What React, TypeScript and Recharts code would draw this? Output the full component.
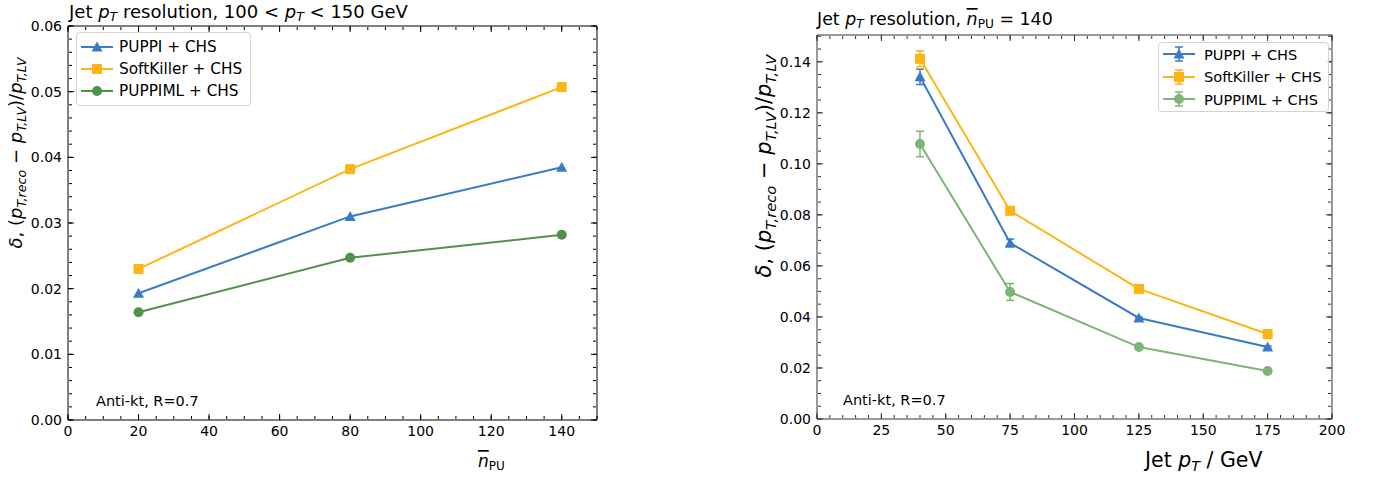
import React from "react";
import { LineChart, Line, XAxis, YAxis, Legend, ErrorBar } from "recharts";

const FONT = "'DejaVu Sans', sans-serif";

const BLUE = "#3a7cc4";
const ORANGE = "#fdb515";
const GREEN = "#50914b";
const LIGHT_GREEN = "#7db478";

const seriesNames = ["PUPPI + CHS", "SoftKiller + CHS", "PUPPIML + CHS"];

// resolution vs pile-up, 100 < pT < 150 GeV
const nPU = [20, 80, 140];
const puppiVsNpu = [0.0193, 0.031, 0.0385];
const softKillerVsNpu = [0.023, 0.0382, 0.0507];
const puppiMlVsNpu = [0.0164, 0.0247, 0.0282];

// resolution vs jet pT at nPU = 140
const jetPt = [40, 75, 125, 175];
const puppiVsPt = [0.1341, 0.069, 0.0396, 0.0282];
const puppiVsPtErr = [0.003, 0.0015, 0.0004, 0.0004];
const softKillerVsPt = [0.1412, 0.0816, 0.051, 0.0333];
const softKillerVsPtErr = [0.0031, 0.001, 0.0004, 0.0004];
const puppiMlVsPt = [0.1078, 0.0498, 0.0282, 0.0188];
const puppiMlVsPtErr = [0.005, 0.0033, 0.0004, 0.0004];

const nPUTicks = [0, 20, 40, 60, 80, 100, 120, 140];
const ptTicks = [0, 25, 50, 75, 100, 125, 150, 175, 200];
const leftYTicks = [0, 0.01, 0.02, 0.03, 0.04, 0.05, 0.06];
const rightYTicks = [0, 0.02, 0.04, 0.06, 0.08, 0.1, 0.12, 0.14];

const steps = (lo: number, hi: number, step: number) => {
  const out: number[] = [];
  for (let i = 0; lo + i * step <= hi + 1e-9; i++) out.push(+(lo + i * step).toFixed(4));
  return out;
};

const leftRows = nPU.map((n, i) => ({
  n,
  puppi: puppiVsNpu[i],
  softKiller: softKillerVsNpu[i],
  puppiMl: puppiMlVsNpu[i],
}));

const rightRows = jetPt.map((pt, i) => ({
  pt,
  puppi: puppiVsPt[i],
  puppiErr: puppiVsPtErr[i],
  softKiller: softKillerVsPt[i],
  softKillerErr: softKillerVsPtErr[i],
  puppiMl: puppiMlVsPt[i],
  puppiMlErr: puppiMlVsPtErr[i],
}));

type Shape = "triangle" | "square" | "circle";

function Marker({ shape, cx, cy, color }: { shape: Shape; cx: number; cy: number; color: string }) {
  if (shape === "triangle")
    return <polygon points={`${cx},${cy - 5.5} ${cx - 5.5},${cy + 4.5} ${cx + 5.5},${cy + 4.5}`} fill={color} />;
  if (shape === "square") return <rect x={cx - 5} y={cy - 5} width={10} height={10} fill={color} />;
  return <circle cx={cx} cy={cy} r={5} fill={color} />;
}

const dotFor = (shape: Shape, color: string) => (p: any) =>
  <Marker key={`${shape}-${p.index}`} shape={shape} cx={p.cx} cy={p.cy} color={color} />;

function LegendBox({ colors, withErrors, fontSize }: { colors: string[]; withErrors: boolean; fontSize: number }) {
  const shapes: Shape[] = ["triangle", "square", "circle"];
  return (
    <div
      style={{
        border: "1px solid #d3d3d3",
        borderRadius: 4,
        background: "rgba(255,255,255,0.85)",
        padding: withErrors ? "0 7px 0 3px" : "3px 8px 3px 3px",
        fontFamily: FONT,
        fontSize,
        color: "#000",
      }}
    >
      {seriesNames.map((name, i) => (
        <div key={name} style={{ display: "flex", alignItems: "center", height: withErrors ? 22.5 : 22 }}>
          <svg width={34} height={20}>
            <line x1={1} x2={33} y1={10} y2={10} stroke={colors[i]} strokeWidth={2} />
            {withErrors && (
              <g stroke={colors[i]} strokeWidth={1.5}>
                <line x1={17} x2={17} y1={3} y2={17} />
                <line x1={13} x2={21} y1={3} y2={3} />
                <line x1={13} x2={21} y1={17} y2={17} />
              </g>
            )}
            <Marker shape={shapes[i]} cx={17} cy={10} color={colors[i]} />
          </svg>
          <span style={{ marginLeft: withErrors ? 8 : 5, whiteSpace: "nowrap" }}>{name}</span>
        </div>
      ))}
    </div>
  );
}

const NoLabel = () => <g />;

// bottom/left axes carry the labels, thin mirrored copies draw inward ticks on all four sides
function frameAxes(o: {
  xKey: string;
  xDomain: [number, number];
  yDomain: [number, number];
  xMajor: number[];
  xMinor: number[];
  yMajor: number[];
  yMinor: number[];
  color: string;
}) {
  const line = { stroke: o.color, strokeWidth: 1 };
  const common = { type: "number" as const, allowDataOverflow: true, interval: 0 as const, tick: NoLabel, mirror: true };
  return [
    <XAxis key="xbM" xAxisId="bMaj" dataKey={o.xKey} {...common} height={1} domain={o.xDomain} ticks={o.xMajor} tickSize={6} tickLine={line} axisLine={false} />,
    <XAxis key="xbm" xAxisId="bMin" dataKey={o.xKey} {...common} height={1} domain={o.xDomain} ticks={o.xMinor} tickSize={3} tickLine={line} axisLine={false} />,
    <XAxis key="xtM" xAxisId="tMaj" dataKey={o.xKey} orientation="top" {...common} height={1} domain={o.xDomain} ticks={o.xMajor} tickSize={6} tickLine={line} axisLine={false} />,
    <XAxis key="xtm" xAxisId="tMin" dataKey={o.xKey} orientation="top" {...common} height={1} domain={o.xDomain} ticks={o.xMinor} tickSize={3} tickLine={line} axisLine={false} />,
    <YAxis key="ylM" yAxisId="lMaj" {...common} width={1} domain={o.yDomain} ticks={o.yMajor} tickSize={6} tickLine={line} axisLine={false} />,
    <YAxis key="ylm" yAxisId="lMin" {...common} width={1} domain={o.yDomain} ticks={o.yMinor} tickSize={3} tickLine={line} axisLine={false} />,
    <YAxis key="yrM" yAxisId="rMaj" orientation="right" {...common} width={1} domain={o.yDomain} ticks={o.yMajor} tickSize={6} tickLine={line} axisLine={false} />,
    <YAxis key="yrm" yAxisId="rMin" orientation="right" {...common} width={1} domain={o.yDomain} ticks={o.yMinor} tickSize={3} tickLine={line} axisLine={false} />,
  ];
}

const tickText = { fontSize: 14, fill: "#000", fontFamily: FONT };

function DeltaLabel({ x, y, size }: { x: number; y: number; size: number }) {
  const sub = size * 0.7;
  const d = size * 0.22;
  return (
    <text transform={`rotate(-90 ${x} ${y})`} x={x} y={y} textAnchor="middle" fontSize={size} fontFamily={FONT}>
      <tspan fontStyle="italic">δ</tspan>, (<tspan fontStyle="italic">p</tspan>
      <tspan fontStyle="italic" fontSize={sub} dy={d}>T,reco</tspan>
      <tspan dy={-d}> − </tspan>
      <tspan fontStyle="italic">p</tspan>
      <tspan fontStyle="italic" fontSize={sub} dy={d}>T,LV</tspan>
      <tspan dy={-d}>)/</tspan>
      <tspan fontStyle="italic">p</tspan>
      <tspan fontStyle="italic" fontSize={sub} dy={d}>T,LV</tspan>
    </text>
  );
}

function LeftPanel() {
  return (
    <LineChart width={620} height={477} data={leftRows} margin={{ top: 26, right: 23, bottom: 27, left: 18 }}>
      <XAxis
        xAxisId="b"
        dataKey="n"
        type="number"
        domain={[0, 150]}
        allowDataOverflow
        ticks={nPUTicks}
        interval={0}
        height={30}
        tickLine={false}
        tickSize={0}
        tickMargin={6}
        axisLine={{ stroke: "#000" }}
        tick={tickText}
      />
      <YAxis
        yAxisId="l"
        type="number"
        domain={[0, 0.06]}
        allowDataOverflow
        ticks={leftYTicks}
        interval={0}
        width={50}
        tickLine={false}
        tickSize={0}
        tickMargin={6}
        axisLine={{ stroke: "#000" }}
        tick={tickText}
        tickFormatter={(v: number) => v.toFixed(2)}
      />
      {frameAxes({
        xKey: "n",
        xDomain: [0, 150],
        yDomain: [0, 0.06],
        xMajor: nPUTicks,
        xMinor: steps(0, 150, 5),
        yMajor: leftYTicks,
        yMinor: steps(0, 0.06, 0.002),
        color: "#000",
      })}
      <XAxis xAxisId="top" orientation="top" dataKey="n" type="number" domain={[0, 150]} allowDataOverflow height={0.001} tick={false} tickLine={false} axisLine={{ stroke: "#000" }} />
      <YAxis yAxisId="right" orientation="right" type="number" domain={[0, 0.06]} allowDataOverflow width={0.001} tick={false} tickLine={false} axisLine={{ stroke: "#000" }} />
      <Line xAxisId="b" yAxisId="l" dataKey="puppi" name={seriesNames[0]} stroke={BLUE} strokeWidth={2} dot={dotFor("triangle", BLUE)} isAnimationActive={false} />
      <Line xAxisId="b" yAxisId="l" dataKey="softKiller" name={seriesNames[1]} stroke={ORANGE} strokeWidth={2} dot={dotFor("square", ORANGE)} isAnimationActive={false} />
      <Line xAxisId="b" yAxisId="l" dataKey="puppiMl" name={seriesNames[2]} stroke={GREEN} strokeWidth={2} dot={dotFor("circle", GREEN)} isAnimationActive={false} />
      <Legend
        layout="vertical"
        align="center"
        verticalAlign="middle"
        wrapperStyle={{ left: 76, top: 32 }}
        content={() => <LegendBox colors={[BLUE, ORANGE, GREEN]} withErrors={false} fontSize={15.3} />}
      />
    </LineChart>
  );
}

function RightPanel() {
  const axisColor = "#333";
  return (
    <LineChart width={635} height={477} data={rightRows} margin={{ top: 35, right: 43, bottom: 28, left: 27 }}>
      <XAxis
        xAxisId="b"
        dataKey="pt"
        type="number"
        domain={[0, 200]}
        allowDataOverflow
        ticks={ptTicks}
        interval={0}
        height={30}
        tickLine={false}
        tickSize={0}
        tickMargin={6}
        axisLine={{ stroke: axisColor }}
        tick={tickText}
      />
      <YAxis
        yAxisId="l"
        type="number"
        domain={[0, 0.1505]}
        allowDataOverflow
        ticks={rightYTicks}
        interval={0}
        width={50}
        tickLine={false}
        tickSize={0}
        tickMargin={6}
        axisLine={{ stroke: axisColor }}
        tick={tickText}
        tickFormatter={(v: number) => v.toFixed(2)}
      />
      {frameAxes({
        xKey: "pt",
        xDomain: [0, 200],
        yDomain: [0, 0.1505],
        xMajor: ptTicks,
        xMinor: steps(0, 200, 5),
        yMajor: rightYTicks,
        yMinor: steps(0, 0.15, 0.005),
        color: axisColor,
      })}
      <XAxis xAxisId="top" orientation="top" dataKey="pt" type="number" domain={[0, 200]} allowDataOverflow height={0.001} tick={false} tickLine={false} axisLine={{ stroke: axisColor }} />
      <YAxis yAxisId="right" orientation="right" type="number" domain={[0, 0.1505]} allowDataOverflow width={0.001} tick={false} tickLine={false} axisLine={{ stroke: axisColor }} />
      <Line xAxisId="b" yAxisId="l" dataKey="puppi" name={seriesNames[0]} stroke={BLUE} strokeWidth={2} dot={dotFor("triangle", BLUE)} isAnimationActive={false}>
        <ErrorBar dataKey="puppiErr" direction="y" width={4} stroke={BLUE} strokeWidth={1.5} />
      </Line>
      <Line xAxisId="b" yAxisId="l" dataKey="softKiller" name={seriesNames[1]} stroke={ORANGE} strokeWidth={2} dot={dotFor("square", ORANGE)} isAnimationActive={false}>
        <ErrorBar dataKey="softKillerErr" direction="y" width={4} stroke={ORANGE} strokeWidth={1.5} />
      </Line>
      <Line xAxisId="b" yAxisId="l" dataKey="puppiMl" name={seriesNames[2]} stroke={LIGHT_GREEN} strokeWidth={2} dot={dotFor("circle", LIGHT_GREEN)} isAnimationActive={false}>
        <ErrorBar dataKey="puppiMlErr" direction="y" width={4} stroke={LIGHT_GREEN} strokeWidth={1.5} />
      </Line>
      <Legend
        layout="vertical"
        align="center"
        verticalAlign="middle"
        wrapperStyle={{ left: 418, top: 42 }}
        content={() => <LegendBox colors={[BLUE, ORANGE, LIGHT_GREEN]} withErrors fontSize={14.6} />}
      />
    </LineChart>
  );
}

export default function App() {
  const t = 18;
  const ts = t * 0.7;
  return (
    <div style={{ position: "absolute", left: 0, top: 0, width: 1375, height: 477, background: "#fff", overflow: "hidden" }}>
      <div style={{ position: "absolute", left: 0, top: 0 }}>
        <LeftPanel />
      </div>
      <div style={{ position: "absolute", left: 740, top: 0 }}>
        <RightPanel />
      </div>
      <svg width={1375} height={477} style={{ position: "absolute", left: 0, top: 0, pointerEvents: "none" }} fontFamily={FONT}>
        <text x={69} y={18} fontSize={t}>
          Jet <tspan fontStyle="italic">p</tspan>
          <tspan fontStyle="italic" fontSize={ts} dy={3}>T</tspan>
          <tspan dy={-3}> resolution, 100 &lt; </tspan>
          <tspan fontStyle="italic">p</tspan>
          <tspan fontStyle="italic" fontSize={ts} dy={3}>T</tspan>
          <tspan dy={-3}> &lt; 150 GeV</tspan>
        </text>
        <text x={817} y={25} fontSize={17.4}>
          Jet <tspan fontStyle="italic">p</tspan>
          <tspan fontStyle="italic" fontSize={12.2} dy={3}>T</tspan>
          <tspan dy={-3}> resolution, </tspan>
          <tspan fontStyle="italic" textDecoration="overline">n</tspan>
          <tspan fontSize={12.2} dy={3}>PU</tspan>
          <tspan dy={-3}> = 140</tspan>
        </text>
        <DeltaLabel x={22} y={153} size={18} />
        <DeltaLabel x={771} y={166} size={21} />
        <text x={478} y={467} fontSize={17}>
          <tspan fontStyle="italic" textDecoration="overline">n</tspan>
          <tspan fontSize={12} dy={3}>PU</tspan>
        </text>
        <text x={1145} y={467} fontSize={20.5}>
          Jet <tspan fontStyle="italic">p</tspan>
          <tspan fontStyle="italic" fontSize={14.3} dy={4}>T</tspan>
          <tspan dy={-4}> / GeV</tspan>
        </text>
        <text x={96} y={406} fontSize={14.5}>Anti-kt, R=0.7</text>
        <text x={843} y={405} fontSize={14.5}>Anti-kt, R=0.7</text>
      </svg>
    </div>
  );
}
